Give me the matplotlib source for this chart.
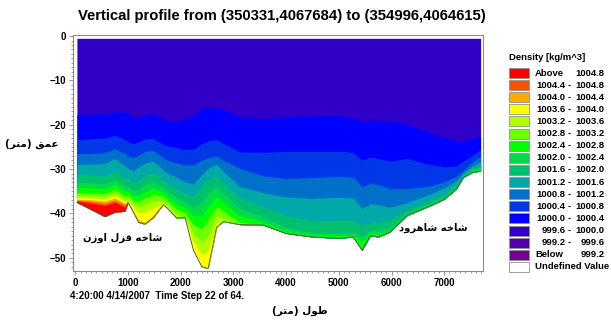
"""Vertical density profile along a reservoir section (time step 22 of 64)."""
import numpy as np
import matplotlib
matplotlib.use("Agg")
import matplotlib.pyplot as plt
from matplotlib.patches import Rectangle
from matplotlib.ticker import MultipleLocator

plt.rcParams["font.family"] = ["Liberation Sans", "DejaVu Sans"]

# distance along section (m)
X = [30, 280, 560, 750, 940, 1000, 1100, 1200, 1320, 1480, 1670, 1760, 1920, 2080,
     2240, 2400, 2520, 2680, 2810, 3120, 3560, 4000, 4500, 5000, 5270, 5440, 5600,
     5750, 5970, 6290, 6730, 7000, 7230, 7360, 7520, 7690]
SURFACE = -0.5
BED = [-37.5, -39.0, -40.7, -39.7, -39.5, -37.5, -39.7, -42.0, -42.4, -40.9, -38.0,
       -39.0, -41.0, -40.9, -48.3, -52.0, -52.4, -43.1, -41.8, -42.5, -42.6, -44.5,
       -45.3, -45.6, -45.3, -48.3, -45.0, -45.3, -44.2, -40.5, -38.3, -36.8, -34.5,
       -31.9, -30.8, -30.4]

# lower edge of each density band (m), top band first; below bed = band absent
B1 = [-17.6, -17.6, -17.5, -17.2, -17.0, -17.6, -18.4, -18.2, -17.7, -17.5, -18.5,
      -19.2, -19.2, -18.6, -18.0, -16.3, -16.0, -16.3, -16.5, -18.2, -18.6, -18.2,
      -18.0, -17.9, -18.5, -19.4, -18.9, -19.0, -19.1, -19.8, -21.8, -22.8, -23.7,
      -23.7, -23.0, -22.6]
B2 = [-23.3, -23.2, -23.0, -22.4, -23.3, -23.8, -24.3, -23.8, -23.2, -23.1, -24.5,
      -24.8, -25.2, -25.6, -25.5, -24.3, -23.6, -23.3, -24.2, -26.1, -26.2, -26.0,
      -26.0, -26.0, -26.2, -28.0, -27.3, -27.6, -28.2, -27.6, -29.0, -29.5, -29.3,
      -28.2, -27.0, -25.6]
B3 = [-26.5, -26.5, -26.3, -25.4, -26.5, -27.0, -27.4, -26.8, -26.0, -25.8, -27.5,
      -28.1, -28.6, -29.1, -29.0, -28.0, -27.4, -27.1, -28.0, -29.8, -31.5, -32.1,
      -31.9, -31.6, -31.8, -34.0, -33.1, -33.5, -34.4, -34.4, -33.8, -32.9, -31.6,
      -30.4, -28.5, -27.1]
B4 = [-28.9, -28.9, -28.7, -27.6, -29.2, -29.8, -30.4, -29.5, -28.6, -28.2, -30.2,
      -31.0, -31.8, -32.9, -33.3, -31.2, -29.8, -28.9, -30.5, -33.9, -35.3, -36.3,
      -36.6, -36.3, -36.5, -38.8, -37.8, -38.0, -38.6, -37.6, -35.6, -34.2, -32.6,
      -30.9, -29.4, -28.3]
B5 = [-31.2, -31.3, -31.5, -30.5, -32.0, -32.2, -33.0, -32.5, -31.5, -30.8, -32.5,
      -33.3, -34.4, -35.5, -36.0, -34.0, -32.2, -31.5, -33.0, -36.5, -38.5, -40.5,
      -41.6, -41.6, -41.5, -42.8, -42.0, -42.0, -41.3, -39.3, -37.2, -35.7, -33.4,
      -31.2, -29.9, -29.0]
B6 = [-33.0, -33.1, -33.3, -32.3, -33.8, -33.9, -34.8, -34.5, -33.5, -32.8, -34.2,
      -35.0, -36.4, -37.3, -38.5, -37.5, -35.5, -34.0, -35.5, -38.8, -40.8, -43.2,
      -44.3, -44.5, -44.3, -45.3, -43.8, -44.0, -43.2, -39.9, -37.7, -36.2, -33.9,
      -31.5, -30.2, -29.5]
B7 = [-34.1, -34.2, -34.4, -33.4, -35.0, -35.0, -36.0, -36.0, -35.0, -34.3, -35.2,
      -36.2, -37.8, -38.7, -40.5, -40.5, -38.5, -36.2, -37.5, -40.5, -42.0, -44.0,
      -44.8, -45.0, -44.9, -46.5, -44.5, -44.8, -43.8, -40.2, -38.0, -36.5, -34.2,
      -31.7, -30.5, -29.9]
B8 = [-35.3, -35.3, -35.5, -34.5, -36.0, -35.9, -37.0, -37.3, -36.5, -35.7, -36.2,
      -37.2, -39.0, -39.8, -42.5, -43.5, -41.5, -38.5, -39.5, -42.0, -43.0, -45.0,
      -46.0, -46.0, -46.0, -48.7, -45.5, -45.8, -44.8, -41.0, -38.8, -37.2, -35.0,
      -32.3, -31.2, -30.6]
B9 = [-36.0, -36.0, -36.1, -35.4, -36.8, -36.5, -37.8, -38.5, -38.0, -37.2, -37.0,
      -38.1, -40.2, -40.8, -44.5, -46.5, -45.0, -40.5, -41.2, -43.2, -44.0, -46.0,
      -55, -55, -55, -55, -55, -55, -55, -55, -55, -55, -55, -55, -55, -55]
B10 = [-36.4, -36.5, -36.7, -36.0, -37.3, -37.0, -38.6, -39.8, -39.8, -38.8, -37.7,
       -39.0, -41.2, -41.6, -46.3, -49.3, -48.5, -42.2, -42.5, -55, -55, -55,
       -55, -55, -55, -55, -55, -55, -55, -55, -55, -55, -55, -55, -55, -55]
B11 = [-36.8, -36.9, -37.2, -36.5, -37.7, -37.3, -39.4, -41.5, -42.0, -40.5, -38.3,
       -39.8, -42.0, -42.4, -48.5, -53.0, -53.0, -44.0, -55, -55, -55, -55,
       -55, -55, -55, -55, -55, -55, -55, -55, -55, -55, -55, -55, -55, -55]
B12 = [-37.0, -37.2, -37.7, -37.0, -38.1, -37.6, -40.0, -42.5, -43.0, -41.5, -55,
       -55, -55, -55, -55, -55, -55, -55, -55, -55, -55, -55,
       -55, -55, -55, -55, -55, -55, -55, -55, -55, -55, -55, -55, -55, -55]
B13 = [-37.2, -37.6, -38.2, -37.5, -38.6, -37.8, -55, -55, -55, -55, -55,
       -55, -55, -55, -55, -55, -55, -55, -55, -55, -55, -55,
       -55, -55, -55, -55, -55, -55, -55, -55, -55, -55, -55, -55, -55, -55]

# legend classes, top to bottom
LEGEND_LEFT = ["Above", "1004.4", "1004.0", "1003.6", "1003.2", "1002.8", "1002.4",
               "1002.0", "1001.6", "1001.2", "1000.8", "1000.4", "1000.0", "999.6",
               "999.2", "Below"]
LEGEND_RIGHT = ["1004.8", "1004.8", "1004.4", "1004.0", "1003.6", "1003.2", "1002.8",
                "1002.4", "1002.0", "1001.6", "1001.2", "1000.8", "1000.4", "1000.0",
                "999.6", "999.2"]
LEGEND_COLORS = ["#FF0000", "#FF5000", "#FFA800", "#FFFF00", "#B0FF00", "#70FF00",
                 "#00FF00", "#00DC48", "#00C070", "#00A8A8", "#0070C8", "#0038E8",
                 "#0000FF", "#3000C8", "#5000B0", "#780090"]

# bands in the section, surface downwards (index into LEGEND_COLORS)
BAND_CLASS = [13, 12, 11, 10, 9, 8, 7, 6, 5, 4, 3, 2, 1, 0]

# Arabic letter forms: isolated, final, initial, medial
FORMS = {
    "ا": ("\uFE8D", "\uFE8E", None, None), "د": ("\uFEA9", "\uFEAA", None, None),
    "ر": ("\uFEAD", "\uFEAE", None, None), "ز": ("\uFEAF", "\uFEB0", None, None),
    "و": ("\uFEED", "\uFEEE", None, None),
    "ت": ("\uFE95", "\uFE96", "\uFE97", "\uFE98"), "خ": ("\uFEA5", "\uFEA6", "\uFEA7", "\uFEA8"),
    "ش": ("\uFEB5", "\uFEB6", "\uFEB7", "\uFEB8"), "ط": ("\uFEC1", "\uFEC2", "\uFEC3", "\uFEC4"),
    "ع": ("\uFEC9", "\uFECA", "\uFECB", "\uFECC"), "ق": ("\uFED5", "\uFED6", "\uFED7", "\uFED8"),
    "ل": ("\uFEDD", "\uFEDE", "\uFEDF", "\uFEE0"), "م": ("\uFEE1", "\uFEE2", "\uFEE3", "\uFEE4"),
    "ن": ("\uFEE5", "\uFEE6", "\uFEE7", "\uFEE8"), "ه": ("\uFEE9", "\uFEEA", "\uFEEB", "\uFEEC"),
}


def rtl(s):
    """Join Persian letters and put them in visual (left-to-right) order."""
    out = []
    for i, ch in enumerate(s):
        if ch not in FORMS:
            out.append(ch)
            continue
        prev = s[i - 1] if i > 0 else ""
        nxt = s[i + 1] if i + 1 < len(s) else ""
        jp = prev in FORMS and FORMS[prev][2] is not None
        jn = FORMS[ch][2] is not None and nxt in FORMS
        iso, fin, ini, med = FORMS[ch]
        out.append(med if jp and jn else fin if jp else ini if jn else iso)
    return "".join(reversed(out)).translate(str.maketrans("()", ")("))


W, H = 611, 321
fig = plt.figure(figsize=(W / 100, H / 100), dpi=100)
ax = fig.add_axes([72.7 / W, 1 - 270.7 / H, 410 / W, 235.7 / H])

x = np.array(X)
bed = np.array(BED)
bounds = [np.full_like(bed, SURFACE), B1, B2, B3, B4, B5, B6, B7, B8, B9, B10, B11,
          B12, B13]
for b, cls in zip(bounds, BAND_CLASS):
    ax.fill_between(x, np.maximum(np.array(b), bed), bed,
                    color=LEGEND_COLORS[cls], lw=0)
ax.plot(x, bed, color="#505050", lw=0.6)

ax.set_xlim(-50, 7730)
ax.set_ylim(-52.9, 0.25)
ax.xaxis.set_major_locator(MultipleLocator(1000))
ax.xaxis.set_minor_locator(MultipleLocator(100))
ax.yaxis.set_major_locator(MultipleLocator(10))
ax.yaxis.set_minor_locator(MultipleLocator(1))
for s in ax.spines.values():
    s.set_color("#8a8a8a")
    s.set_linewidth(0.8)
ax.tick_params(which="both", color="#8a8a8a", width=0.6, direction="out")
ax.tick_params(which="major", length=3, pad=2, labelsize=7)
ax.tick_params(which="minor", length=1.5)
for lab in ax.get_xticklabels() + ax.get_yticklabels():
    lab.set_fontweight("bold")

fig.text(282 / W, 1 - 16 / H,
         "Vertical profile from (350331,4067684) to (354996,4064615)",
         ha="center", va="center", fontsize=10.7, fontweight="bold")
fig.text(70 / W, 1 - 296 / H, "4:20:00 4/14/2007  Time Step 22 of 64.",
         ha="left", va="center", fontsize=7, fontweight="bold")

ar = dict(family="DejaVu Sans", fontweight="bold", ha="center", va="center")
fig.text(32 / W, 1 - 144 / H, rtl("عمق (متر)"), fontsize=7.5, **ar)
fig.text(300 / W, 1 - 311 / H, rtl("طول (متر)"), fontsize=7.5, **ar)
ax.text(890, -45.4, rtl("شاخه قزل اوزن"), fontsize=7.2, **ar)
ax.text(6790, -43.2, rtl("شاخه شاهرود"), fontsize=7.2, **ar)

# legend panel
fig.text(509 / W, 1 - 57 / H, "Density [kg/m^3]", ha="left", va="center",
         fontsize=6.8, fontweight="bold")
row0, step = 73, 12.12
for i, (lo, hi, c) in enumerate(zip(LEGEND_LEFT, LEGEND_RIGHT, LEGEND_COLORS)):
    yc = 1 - (row0 + i * step) / H
    fig.patches.append(Rectangle((509 / W, yc - 5 / H), 20 / W, 10 / H, facecolor=c,
                                 edgecolor="#909090", lw=0.6,
                                 transform=fig.transFigure, figure=fig))
    if lo in ("Above", "Below"):
        fig.text(535 / W, yc, lo, ha="left", va="center", fontsize=6.8,
                 fontweight="bold")
    else:
        fig.text(565.5 / W, yc, lo, ha="right", va="center", fontsize=6.8,
                 fontweight="bold")
        fig.text(569.5 / W, yc, "-", ha="center", va="center", fontsize=6.8,
                 fontweight="bold")
    fig.text(604.5 / W, yc, hi, ha="right", va="center", fontsize=6.8,
             fontweight="bold")
yc = 1 - (row0 + 16 * step) / H
fig.patches.append(Rectangle((509 / W, yc - 5 / H), 20 / W, 10 / H, facecolor="white",
                             edgecolor="#909090", lw=0.6,
                             transform=fig.transFigure, figure=fig))
fig.text(535 / W, yc, "Undefined Value", ha="left", va="center", fontsize=6.8,
         fontweight="bold")

fig.savefig("out.png", dpi=100)
